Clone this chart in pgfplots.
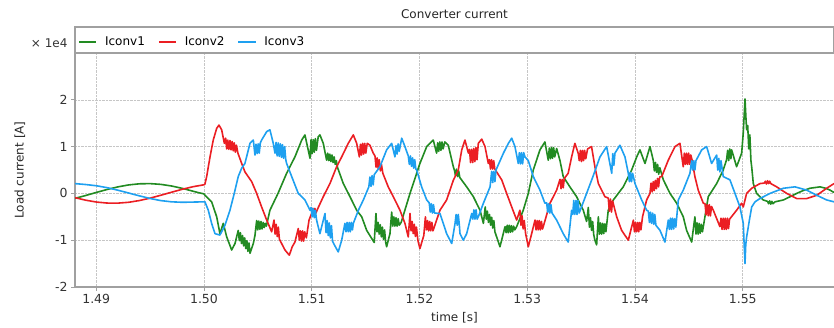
\documentclass[border=0pt]{standalone}
\usepackage{fontspec}
\setmainfont{DejaVu Sans}
\usepackage{pgfplots}
\pgfplotsset{compat=1.18}
\definecolor{cgreen}{RGB}{34,139,34}
\definecolor{cred}{RGB}{235,30,35}
\definecolor{cblue}{RGB}{30,160,240}
\definecolor{axgray}{RGB}{160,160,160}
\begin{document}
\begin{tikzpicture}
\useasboundingbox (0,0) rectangle (834pt,327pt);
\begin{axis}[
 name=main, at={(75pt,40pt)}, anchor=south west,
 scale only axis, width=759pt, height=234pt,
 xmin=1.48803, xmax=1.55847, ymin=-2, ymax=3,
 xtick={1.49,1.50,1.51,1.52,1.53,1.54,1.55},
 xticklabels={1.49,1.50,1.51,1.52,1.53,1.54,1.55},
 ytick={-2,-1,0,1,2}, yticklabels={-2,-1,0,1,2},
 axis x line*=bottom, axis y line*=left,
 axis line style={axgray, line width=1.2pt},
 tick style={axgray, line width=0.8pt}, tick align=outside, major tick length=4pt,
 grid=major, grid style={densely dotted, gray!45, line width=0.6pt},
 ticklabel style={font=\fontsize{12.5}{14}\selectfont, text=black!80},
 xlabel={time [s]}, ylabel={Load current [A]},
 label style={font=\fontsize{12}{14}\selectfont, text=black!85},
 xlabel style={at={(axis description cs:0.5,-0.1325)}, anchor=center},
 ylabel style={at={(axis description cs:-0.0725,0.5)}, anchor=center},
 title={Converter current},
 every axis title shift=0pt,
 title style={at={(axis description cs:0.5,1.1667)}, anchor=center, font=\fontsize{12}{14}\selectfont, text=black!85},
 legend columns=3,
 legend cell align=left,
 legend style={at={(axis description cs:0,1)}, anchor=south west, yshift=2pt, draw opacity=0, fill=none, font=\fontsize{12}{14}\selectfont, /tikz/every odd column/.append style={column sep=6pt}, /tikz/every even column/.append style={column sep=11pt}},
 line join=round,
]
\addlegendimage{draw=cgreen, draw opacity=1, line width=1.8pt, line legend}
\addlegendentry{Iconv1}
\addlegendimage{draw=cred, draw opacity=1, line width=1.8pt, line legend}
\addlegendentry{Iconv2}
\addlegendimage{draw=cblue, draw opacity=1, line width=1.8pt, line legend}
\addlegendentry{Iconv3}
\addplot[cgreen, line width=1.6pt, forget plot] coordinates {
(1.488,-0.107)(1.4885,-0.077)(1.489,-0.046)(1.4895,-0.013)(1.490,0.020)(1.491,0.083)(1.492,0.139)(1.493,0.181)(1.494,0.205)(1.495,0.209)(1.496,0.193)(1.497,0.158)(1.498,0.107)(1.499,0.046)(1.4995,0.015)(1.500,-0.01)
(1.50009,-0.04)(1.50071,-0.18)(1.50118,-0.50)(1.50148,-0.86)(1.50179,-0.64)(1.50211,-0.93)(1.50257,-1.21)(1.50288,-1.07)(1.50318,-0.79)
(1.50328,-1.01)(1.50338,-0.84)(1.50348,-1.07)(1.50358,-0.90)(1.50368,-1.12)(1.50378,-0.95)(1.50388,-1.18)(1.50398,-1.01)(1.50408,-1.24)(1.50418,-1.06)
(1.50427,-1.28)(1.50458,-1.07)(1.50473,-0.9)
(1.50489,-0.58)(1.50499,-0.78)(1.50509,-0.59)(1.50519,-0.77)(1.50529,-0.60)(1.50539,-0.76)(1.50549,-0.62)(1.50559,-0.73)(1.50569,-0.64)(1.50579,-0.70)
(1.50612,-0.36)(1.50687,0.0)(1.50767,0.43)(1.50844,0.78)(1.50907,1.14)(1.50937,1.25)(1.50984,0.75)
(1.50994,1.15)(1.51004,0.85)(1.51014,1.15)(1.51024,0.88)(1.51034,1.17)(1.51044,0.92)
(1.51060,1.21)(1.51076,1.25)(1.51107,1.07)(1.51138,0.71)
(1.51148,0.86)(1.51158,0.70)(1.51168,0.84)(1.51178,0.68)(1.51188,0.82)(1.51198,0.66)(1.51208,0.78)(1.51218,0.62)(1.51228,0.70)
(1.51240,0.55)(1.51293,0.21)(1.51355,-0.07)(1.51417,-0.36)(1.51464,-0.50)(1.51510,-0.79)(1.51580,-1.05)(1.51596,-0.43)
(1.51606,-0.82)(1.51616,-0.62)(1.51626,-0.87)(1.51636,-0.67)(1.51646,-0.93)(1.51656,-0.72)(1.51666,-0.98)(1.51676,-0.78)(1.51686,-1.04)
(1.51695,-1.14)(1.51726,-0.86)(1.51742,-0.40)
(1.51752,-0.70)(1.51762,-0.50)(1.51772,-0.70)(1.51782,-0.52)(1.51792,-0.70)(1.51802,-0.54)(1.51812,-0.68)
(1.51830,-0.62)(1.51912,0.0)(1.52004,0.64)(1.52067,1.0)(1.52128,1.14)(1.52159,0.86)
(1.52169,1.08)(1.52179,0.9)(1.52189,1.1)(1.52199,0.92)(1.52209,1.1)(1.52219,0.95)
(1.52235,1.1)(1.52267,1.03)(1.52314,0.57)
(1.52324,0.50)(1.52334,0.38)(1.52344,0.52)(1.52354,0.36)(1.52364,0.48)(1.52374,0.34)
(1.52438,0.14)(1.52500,-0.07)(1.52562,-0.36)(1.52593,-0.64)(1.52610,-0.29)
(1.52620,-0.55)(1.52630,-0.38)(1.52640,-0.62)(1.52650,-0.45)(1.52660,-0.68)(1.52670,-0.51)(1.52680,-0.74)(1.52690,-0.58)(1.52700,-0.82)
(1.52747,-1.14)(1.52794,-0.71)
(1.52804,-0.84)(1.52814,-0.68)(1.52824,-0.84)(1.52834,-0.68)(1.52844,-0.83)(1.52854,-0.69)(1.52864,-0.82)(1.52874,-0.70)(1.52884,-0.78)
(1.52902,-0.71)(1.52963,-0.36)(1.53010,0.0)(1.53056,0.5)(1.53118,0.93)(1.53164,1.10)(1.53195,0.71)
(1.53205,0.97)(1.53215,0.74)(1.53225,0.98)(1.53235,0.75)(1.53245,0.98)(1.53255,0.78)
(1.53273,0.96)(1.53304,0.70)(1.53334,0.36)(1.53396,0.14)(1.53458,-0.07)(1.53520,-0.36)(1.53551,-0.60)(1.53567,-0.30)
(1.53577,-0.72)(1.53587,-0.52)(1.53597,-0.79)(1.53607,-0.60)(1.53617,-0.88)
(1.53628,-1.0)(1.53644,-1.1)(1.53660,-0.5)
(1.53670,-0.87)(1.53680,-0.63)(1.53690,-0.87)(1.53700,-0.64)(1.53710,-0.86)(1.53720,-0.65)(1.53730,-0.82)
(1.53752,-0.36)(1.53799,-0.14)(1.53891,0.14)(1.53969,0.5)(1.54016,0.78)(1.54046,0.93)(1.54093,0.64)(1.54139,1.0)(1.54160,0.8)
(1.54170,0.70)(1.54180,0.48)(1.54190,0.66)(1.54200,0.45)(1.54210,0.62)(1.54220,0.41)(1.54230,0.55)
(1.54263,0.29)(1.54325,0.0)(1.54387,-0.21)(1.54448,-0.5)(1.54479,-0.79)(1.54526,-1.04)(1.54556,-0.5)
(1.54566,-0.87)(1.54576,-0.63)(1.54586,-0.87)(1.54596,-0.64)(1.54606,-0.85)(1.54616,-0.66)(1.54626,-0.82)
(1.54680,-0.07)(1.54758,0.21)(1.54819,0.5)(1.54850,0.72)
(1.54860,0.92)(1.54870,0.70)(1.54880,0.95)(1.54890,0.74)
(1.54897,0.93)(1.54943,0.57)(1.54990,0.86)(1.55005,1.3)(1.55021,2.02)(1.55030,1.6)(1.55036,1.36)
(1.55046,1.45)(1.55056,0.95)(1.55066,1.25)(1.55076,0.70)
(1.55083,0.57)(1.55098,0.21)(1.55129,0.0)(1.55191,-0.14)(1.55230,-0.17)(1.55240,-0.22)(1.55250,-0.16)(1.55260,-0.23)(1.55270,-0.17)(1.55280,-0.22)(1.55300,-0.18)(1.55377,-0.14)(1.55440,-0.07)(1.55501,0.0)(1.55560,0.06)(1.55624,0.11)(1.55717,0.14)(1.55770,0.11)(1.55810,0.07)(1.55847,0.02)
};
\addplot[cred, line width=1.6pt, forget plot] coordinates {
(1.488,-0.089)(1.489,-0.144)(1.490,-0.184)(1.491,-0.206)(1.492,-0.208)(1.493,-0.190)(1.494,-0.153)(1.495,-0.101)(1.496,-0.039)(1.497,0.026)(1.498,0.089)(1.499,0.144)(1.500,0.184)
(1.50009,0.20)(1.50025,0.36)(1.50056,0.78)(1.50086,1.14)(1.50118,1.39)(1.50139,1.46)(1.50164,1.36)(1.50189,1.07)(1.50201,1.18)
(1.50211,0.95)(1.50221,1.14)(1.50231,0.94)(1.50241,1.13)(1.50251,0.93)(1.50261,1.11)(1.50271,0.91)(1.50281,1.08)(1.50291,0.88)(1.50301,1.03)
(1.50315,0.86)(1.50350,0.64)(1.50380,0.46)(1.50443,0.25)(1.50489,0.0)(1.50535,-0.29)(1.50582,-0.57)(1.50628,-0.82)(1.50650,-0.57)
(1.50660,-0.87)(1.50670,-0.66)(1.50680,-0.92)(1.50690,-0.72)(1.50700,-0.98)
(1.50752,-1.21)(1.50792,-1.32)(1.50819,-1.14)(1.50844,-1.04)(1.50875,-0.75)
(1.50885,-1.0)(1.50895,-0.80)(1.50905,-1.02)(1.50915,-0.80)(1.50925,-1.02)(1.50935,-0.82)
(1.50950,-0.95)(1.50975,-0.57)(1.50999,-0.43)
(1.51009,-0.32)(1.51019,-0.44)(1.51029,-0.32)(1.51039,-0.42)
(1.51055,-0.33)(1.51107,-0.07)(1.51169,0.21)(1.51231,0.57)(1.51278,0.78)(1.51339,1.07)(1.51386,1.25)(1.51417,1.07)(1.51442,0.78)
(1.51452,1.05)(1.51462,0.82)(1.51472,1.07)(1.51482,0.84)(1.51492,1.07)(1.51502,0.86)
(1.51515,1.07)(1.51540,1.03)(1.51571,0.86)
(1.51587,0.80)(1.51597,0.56)(1.51607,0.76)(1.51617,0.52)(1.51627,0.72)(1.51637,0.48)(1.51647,0.62)
(1.51660,0.43)(1.51710,0.14)(1.51757,-0.07)(1.51819,-0.36)(1.51865,-0.64)(1.51896,-0.93)(1.51912,-0.43)
(1.51922,-0.80)(1.51932,-0.60)(1.51942,-0.86)(1.51952,-0.66)(1.51962,-0.92)(1.51972,-0.72)
(1.51985,-1.0)(1.52004,-1.18)(1.52040,-0.9)(1.52055,-0.5)
(1.52065,-0.78)(1.52075,-0.58)(1.52085,-0.80)(1.52095,-0.60)(1.52105,-0.80)(1.52115,-0.62)(1.52125,-0.80)
(1.52190,-0.36)(1.52252,-0.14)(1.52314,0.28)(1.52360,0.5)(1.52392,0.93)(1.52422,1.14)(1.52454,0.86)
(1.52464,0.94)(1.52474,0.66)(1.52484,0.94)(1.52494,0.66)(1.52504,0.96)(1.52514,0.68)(1.52524,0.98)(1.52534,0.72)
(1.52546,1.07)(1.52578,1.16)(1.52608,1.0)(1.52639,0.64)
(1.52649,0.72)(1.52659,0.52)(1.52669,0.72)(1.52679,0.52)(1.52689,0.70)(1.52699,0.52)
(1.52763,0.29)(1.52809,0.0)(1.52856,-0.29)(1.52902,-0.57)(1.52932,-0.36)
(1.52942,-0.68)(1.52952,-0.48)(1.52962,-0.76)(1.52972,-0.58)
(1.52985,-0.86)(1.53010,-1.14)(1.53041,-0.86)(1.53072,-0.57)
(1.53082,-0.78)(1.53092,-0.58)(1.53102,-0.78)(1.53112,-0.58)(1.53122,-0.78)(1.53132,-0.60)(1.53142,-0.76)
(1.53160,-0.62)(1.53211,-0.21)(1.53273,0.07)
(1.53304,0.30)(1.53314,0.10)(1.53324,0.30)(1.53334,0.12)(1.53344,0.32)
(1.53380,0.43)(1.53412,0.78)(1.53442,1.07)(1.53473,0.86)
(1.53483,0.70)(1.53493,0.92)(1.53503,0.68)(1.53513,0.92)(1.53523,0.70)(1.53533,0.92)(1.53543,0.74)
(1.53560,0.95)(1.53597,1.0)(1.53628,0.57)(1.53660,0.21)(1.53721,-0.07)
(1.53752,-0.10)(1.53762,-0.38)(1.53772,-0.12)(1.53782,-0.40)(1.53792,-0.16)
(1.53830,-0.5)(1.53876,-0.79)(1.53938,-1.0)(1.53985,-0.57)
(1.53995,-0.82)(1.54005,-0.62)(1.54015,-0.82)(1.54025,-0.62)(1.54035,-0.82)(1.54045,-0.62)(1.54055,-0.78)
(1.54070,-0.5)(1.54108,-0.14)
(1.54139,0.0)(1.54149,0.22)(1.54159,0.03)(1.54169,0.25)(1.54179,0.06)(1.54189,0.28)(1.54199,0.10)(1.54209,0.32)(1.54219,0.14)(1.54229,0.35)
(1.54248,0.36)(1.54309,0.71)(1.54371,1.0)(1.54417,1.07)(1.54448,0.57)
(1.54458,0.86)(1.54468,0.62)(1.54478,0.86)(1.54488,0.62)(1.54498,0.86)(1.54508,0.62)(1.54518,0.82)
(1.54530,0.71)(1.54556,0.36)(1.54587,0.07)(1.54634,-0.21)
(1.54650,-0.22)(1.54660,-0.46)(1.54670,-0.24)(1.54680,-0.48)(1.54690,-0.24)(1.54700,-0.48)(1.54710,-0.28)
(1.54727,-0.36)(1.54788,-0.71)
(1.54798,-0.53)(1.54808,-0.77)(1.54818,-0.53)(1.54828,-0.77)(1.54838,-0.53)(1.54848,-0.77)(1.54858,-0.53)(1.54868,-0.75)(1.54878,-0.55)
(1.54943,-0.36)(1.54990,-0.21)(1.55005,-0.29)(1.55036,0.0)(1.55083,0.11)(1.55160,0.21)(1.55200,0.22)(1.55210,0.26)(1.55220,0.20)(1.55230,0.27)(1.55240,0.21)(1.55250,0.26)(1.55260,0.21)(1.55315,0.14)(1.55408,0.0)(1.55501,-0.11)(1.55594,-0.11)(1.55687,-0.04)(1.55779,0.11)(1.55847,0.21)
};
\addplot[cblue, line width=1.6pt, forget plot] coordinates {
(1.488,0.21)(1.489,0.190)(1.490,0.164)(1.491,0.123)(1.492,0.069)(1.493,0.009)(1.494,-0.052)(1.495,-0.108)(1.496,-0.154)(1.497,-0.18)(1.498,-0.19)(1.499,-0.185)(1.500,-0.18)
(1.50009,-0.18)(1.50040,-0.36)(1.50071,-0.64)(1.50102,-0.86)(1.50148,-0.89)(1.50195,-0.68)(1.50241,-0.36)(1.50281,0.0)(1.50318,0.36)(1.50350,0.54)(1.50380,0.64)(1.50427,1.07)(1.50458,1.14)(1.50473,0.82)
(1.50483,1.05)(1.50493,0.85)(1.50503,1.06)(1.50513,0.86)(1.50523,1.08)
(1.50535,1.14)(1.50582,1.32)(1.50612,1.36)(1.50643,1.07)(1.50659,0.86)
(1.50669,1.09)(1.50679,0.80)(1.50689,1.08)(1.50699,0.79)(1.50709,1.06)(1.50719,0.77)(1.50729,1.04)(1.50739,0.75)(1.50749,1.0)(1.50759,0.72)
(1.50767,0.64)(1.50814,0.36)(1.50875,0.0)(1.50937,-0.14)(1.50984,-0.36)
(1.50994,-0.30)(1.51004,-0.50)(1.51014,-0.32)(1.51024,-0.52)(1.51034,-0.36)
(1.51045,-0.57)(1.51076,-0.86)(1.51123,-0.43)
(1.51133,-0.84)(1.51143,-0.58)(1.51153,-0.90)(1.51163,-0.63)(1.51173,-0.95)(1.51183,-0.69)(1.51193,-1.02)
(1.51210,-1.1)(1.51246,-1.25)(1.51278,-1.0)(1.51308,-0.64)
(1.51318,-0.82)(1.51328,-0.62)(1.51338,-0.82)(1.51348,-0.62)(1.51358,-0.82)(1.51368,-0.62)(1.51378,-0.78)
(1.51386,-0.64)(1.51433,-0.36)(1.51479,-0.14)(1.51530,0.14)
(1.51540,0.35)(1.51550,0.15)(1.51560,0.38)(1.51570,0.18)(1.51580,0.40)
(1.51633,0.57)(1.51695,0.93)(1.51742,1.07)(1.51772,0.78)
(1.51782,1.02)(1.51792,0.84)(1.51802,1.06)(1.51812,0.90)
(1.51835,1.18)(1.51865,1.0)(1.51896,0.8)
(1.51906,0.62)(1.51916,0.80)(1.51926,0.58)(1.51936,0.76)(1.51946,0.54)(1.51956,0.72)(1.51966,0.52)
(1.51974,0.5)(1.52020,0.14)(1.52067,-0.14)
(1.52090,-0.20)(1.52100,-0.40)(1.52110,-0.22)(1.52120,-0.42)(1.52130,-0.24)(1.52140,-0.42)
(1.52190,-0.43)(1.52252,-0.86)(1.52299,-1.07)(1.52330,-0.64)
(1.52340,-0.45)(1.52350,-0.68)(1.52360,-0.45)(1.52370,-0.68)
(1.52376,-0.86)(1.52407,-1.0)(1.52438,-0.86)(1.52485,-0.43)
(1.52495,-0.55)(1.52505,-0.35)(1.52515,-0.55)(1.52525,-0.35)(1.52535,-0.55)
(1.52546,-0.5)(1.52593,-0.21)(1.52655,0.14)
(1.52670,0.47)(1.52680,0.23)(1.52690,0.47)(1.52700,0.25)(1.52710,0.50)
(1.52779,0.86)(1.52825,1.07)(1.52856,1.18)(1.52886,1.0)(1.52917,0.64)
(1.52927,0.87)(1.52937,0.63)(1.52947,0.87)(1.52957,0.63)(1.52967,0.87)
(1.52979,0.78)(1.53010,0.7)(1.53056,0.36)(1.53118,0.07)(1.53164,-0.21)
(1.53180,-0.20)(1.53190,-0.40)(1.53200,-0.22)(1.53210,-0.42)(1.53220,-0.24)(1.53230,-0.42)
(1.53273,-0.57)(1.53334,-0.86)(1.53380,-1.04)(1.53412,-0.36)
(1.53422,-0.45)(1.53432,-0.15)(1.53442,-0.45)(1.53452,-0.15)(1.53462,-0.45)(1.53472,-0.15)(1.53482,-0.42)
(1.53551,0.0)(1.53613,0.38)(1.53675,0.78)(1.53737,1.0)(1.53784,0.43)
(1.53794,0.85)(1.53804,0.60)
(1.53814,0.86)(1.53860,1.03)(1.53907,0.78)(1.53938,0.43)
(1.53948,0.25)(1.53958,0.45)(1.53968,0.25)(1.53978,0.43)
(1.54000,0.21)(1.54062,-0.14)(1.54108,-0.36)
(1.54124,-0.38)(1.54134,-0.62)(1.54144,-0.40)(1.54154,-0.64)(1.54164,-0.42)(1.54174,-0.66)(1.54184,-0.45)(1.54194,-0.68)
(1.54232,-0.79)(1.54278,-1.04)(1.54309,-0.57)
(1.54319,-0.77)(1.54329,-0.53)(1.54339,-0.77)(1.54349,-0.53)(1.54359,-0.76)(1.54369,-0.54)(1.54379,-0.72)
(1.54402,-0.14)(1.54448,0.07)(1.54510,0.43)
(1.54526,0.70)(1.54536,0.50)(1.54546,0.70)(1.54556,0.50)(1.54566,0.70)
(1.54619,0.93)(1.54665,1.0)(1.54711,0.64)(1.54758,0.82)
(1.54768,0.50)(1.54778,0.75)(1.54788,0.46)(1.54798,0.70)
(1.54819,0.36)(1.54881,0.29)(1.54928,0.0)(1.54974,-0.29)(1.55005,-0.64)(1.55015,-1.2)(1.55021,-1.5)(1.55028,-1.1)(1.55036,-0.93)(1.55067,-0.5)(1.55083,-0.29)(1.55114,-0.18)(1.55160,-0.11)(1.55253,0.0)(1.55377,0.11)(1.55485,0.14)(1.55594,0.07)(1.55687,-0.04)(1.55779,-0.14)(1.55847,-0.18)
};
\end{axis}
\draw[axgray, line width=1.2pt] (main.north west) rectangle ([yshift=26pt]main.north east);
\node[anchor=east, font=\fontsize{12}{14}\selectfont, text=black!80] at ([xshift=-4pt,yshift=10pt]main.north west) {× 1e4};
\end{tikzpicture}
\end{document}
